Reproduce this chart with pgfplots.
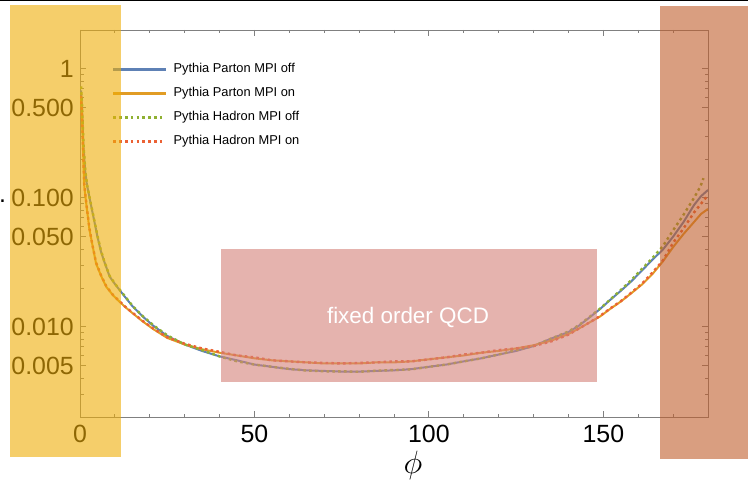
\documentclass[border=0pt]{standalone}
\usepackage{pgfplots}
\pgfplotsset{compat=1.18}
\usepackage{pgfplotstable}
\usepackage{fontspec}
\setmainfont{Liberation Sans}
\definecolor{mblue}{RGB}{94,129,181}
\definecolor{morange}{RGB}{225,156,36}
\definecolor{mgreen}{RGB}{143,176,50}
\definecolor{mred}{RGB}{235,98,53}
\definecolor{yellowO}{RGB}{238,173,7}
\definecolor{brownO}{RGB}{192,93,43}
\definecolor{pinkO}{RGB}{212,128,120}

\pgfplotstableread{
x y
0.3 0.68
0.6 0.48
1.0 0.25
1.5 0.16
2.0 0.126
3.0 0.092
4.0 0.068
5.0 0.050
6.0 0.0384
7.0 0.0318
8.5 0.0245
10 0.0215
12 0.0183
15 0.0145
18 0.0120
21 0.0102
25 0.0085
30 0.0073
35 0.0065
40 0.0059
45 0.0055
50 0.0051
55 0.0049
60 0.0047
65 0.0046
70 0.00455
75 0.0045
80 0.0045
85 0.00455
90 0.0046
95 0.0047
100 0.0049
105 0.0051
110 0.0054
115 0.0057
120 0.0061
125 0.0065
130 0.0071
135 0.0081
140 0.0091
143 0.0102
146 0.0118
149 0.0137
152 0.0162
155 0.0190
158 0.0225
161 0.0272
164 0.0330
167 0.0395
170 0.0500
173 0.0650
176 0.0880
178 0.1030
180 0.1150
}\partonoff

\pgfplotstableread{
x y
0.3 0.60
0.6 0.40
0.9 0.22
1.2 0.125
1.6 0.100
2.0 0.081
2.7 0.057
3.5 0.044
4.6 0.031
6.0 0.0250
7.5 0.0205
9.5 0.0175
11.3 0.0157
13 0.0142
15 0.0128
18 0.0110
21 0.0096
25 0.0082
30 0.0073
35 0.0067
40 0.0063
45 0.0060
50 0.0057
55 0.0055
60 0.0054
65 0.0053
70 0.0052
75 0.0052
80 0.0052
85 0.0053
90 0.0053
95 0.0054
100 0.0056
105 0.0058
110 0.0060
115 0.0063
120 0.0065
125 0.0068
130 0.0072
135 0.0078
140 0.0088
143 0.0097
146 0.0108
149 0.0120
152 0.0138
155 0.0157
158 0.0182
161 0.0212
164 0.0255
167 0.0320
170 0.0415
173 0.0525
176 0.0650
178 0.0750
180 0.0820
}\partonon

\pgfplotstableread{
x y
0.3 0.73
0.6 0.52
1.0 0.26
1.5 0.165
2.0 0.128
3.0 0.093
4.0 0.069
5.0 0.051
6.0 0.0390
7.0 0.0320
8.5 0.0248
10 0.0216
12 0.0185
15 0.0146
18 0.0121
21 0.0103
25 0.0086
30 0.0073
35 0.0066
40 0.0059
45 0.0054
50 0.0051
55 0.0049
60 0.00472
65 0.00458
70 0.00452
75 0.00452
80 0.00448
85 0.00458
90 0.00462
95 0.00468
100 0.0049
105 0.0051
110 0.0054
115 0.0057
120 0.0061
125 0.0066
130 0.0071
135 0.0081
140 0.0092
143 0.0103
146 0.0119
149 0.0138
152 0.0163
155 0.0193
158 0.0230
161 0.0280
164 0.0340
167 0.0420
170 0.0560
173 0.0740
176 0.1000
177.8 0.1220
178.7 0.1420
}\hadronoff

\pgfplotstableread{
x y
0.3 0.62
0.6 0.42
0.9 0.23
1.2 0.13
1.6 0.102
2.0 0.082
2.7 0.058
3.5 0.044
4.6 0.0315
6.0 0.0252
7.5 0.0207
9.5 0.0176
11.3 0.0158
13 0.0143
15 0.0129
18 0.0111
21 0.0097
25 0.0083
30 0.0074
35 0.0068
40 0.0064
45 0.0060
50 0.0058
55 0.0055
60 0.0054
65 0.0053
70 0.00525
75 0.0052
80 0.00525
85 0.0053
90 0.0054
95 0.0054
100 0.0056
105 0.0058
110 0.0061
115 0.0063
120 0.0066
125 0.0068
130 0.0071
135 0.0077
140 0.0087
143 0.0097
146 0.0108
149 0.0121
152 0.0139
155 0.0158
158 0.0184
161 0.0215
164 0.0262
167 0.0325
170 0.0448
173 0.0580
176 0.0770
178 0.0900
180 0.1050
}\hadronon

\begin{document}
\begin{tikzpicture}
\useasboundingbox (0,0) rectangle (748bp,485bp);
\begin{axis}[
  at={(80bp,68bp)}, anchor=south west,
  scale only axis, width=628bp, height=387bp,
  xmin=0, xmax=180, ymode=log, ymin=0.002, ymax=2,
  axis line style={black!50, line width=0.8bp},
  every tick/.style={black!50, line width=0.8bp},
  tick align=inside,
  major tick length=6bp, minor tick length=3.5bp,
  xtick={0,50,100,150}, xticklabels={0,50,100,150},
  minor xtick={10,20,30,40,60,70,80,90,110,120,130,140,160,170},
  ytick={0.005,0.01,0.05,0.1,0.5,1},
  yticklabels={0.005,0.010,0.050,0.100,0.500,1},
  minor ytick={0.002,0.003,0.004,0.006,0.007,0.008,0.009,0.02,0.03,0.04,0.06,0.07,0.08,0.09,0.2,0.3,0.4,0.6,0.7,0.8,0.9,2},
  /pgf/number format/assume math mode=true,
  ticklabel style={font=\fontsize{25}{30}\selectfont, inner sep=0pt, text=black},
  xticklabel style={yshift=-8bp},
  yticklabel style={xshift=-6bp},
  xlabel={$\phi$},
  xlabel style={at={(axis description cs:0.530,-0.124)}, anchor=center, font=\fontsize{25}{30}\selectfont, inner sep=0pt, scale=1.3},
  legend style={at={(axis description cs:0.051,0.915)}, anchor=north west, draw=none, fill=none, inner sep=0pt,
    font=\fontsize{12.9}{15}\selectfont, row sep=11.5bp, column sep=7bp,
    nodes={inner sep=0pt, text height=9.5bp, text depth=3bp}},
  legend cell align=left,
  legend image code/.code={\draw[#1] (0bp,0bp) -- (52bp,0bp);},
]
\addlegendimage{legend image code/.code={\fill[mblue] (0bp,-0.9bp) rectangle (52bp,0.9bp);}}
\addlegendentry{Pythia Parton MPI off}
\addlegendimage{legend image code/.code={\fill[morange] (0bp,-0.9bp) rectangle (52bp,0.9bp);}}
\addlegendentry{Pythia Parton MPI on}
\addlegendimage{draw=mgreen, line width=2.4bp, dash pattern=on 2.6bp off 3.2bp}
\addlegendentry{Pythia Hadron MPI off}
\addlegendimage{draw=mred, line width=2.4bp, dash pattern=on 2.6bp off 3.2bp}
\addlegendentry{Pythia Hadron MPI on}
\addplot[draw=mblue, line width=2bp, no markers, forget plot] table {\partonoff};
\addplot[draw=morange, line width=2bp, no markers, forget plot] table {\partonon};
\addplot[draw=mgreen, line width=2.4bp, dash pattern=on 2.6bp off 3.2bp, no markers, forget plot] table {\hadronoff};
\addplot[draw=mred, line width=2.4bp, dash pattern=on 2.6bp off 3.2bp, no markers, forget plot] table {\hadronon};
\end{axis}
\fill[yellowO, opacity=0.6] (10bp,28bp) rectangle (121bp,480bp);
\fill[brownO, opacity=0.6] (660bp,26bp) rectangle (748bp,479bp);
\fill[pinkO, opacity=0.6] (221bp,103bp) rectangle (597bp,236bp);
\node[text=white, font=\fontsize{22.5}{26}\selectfont, inner sep=0pt] at (408bp,168bp) {fixed order QCD};
\draw[black, line width=1.5bp] (0,484.25bp) -- (748bp,484.25bp);
\node[anchor=base, font=\fontsize{25}{30}\selectfont, inner sep=0pt] at (2.5bp,282.5bp) {.};
\end{tikzpicture}
\end{document}
